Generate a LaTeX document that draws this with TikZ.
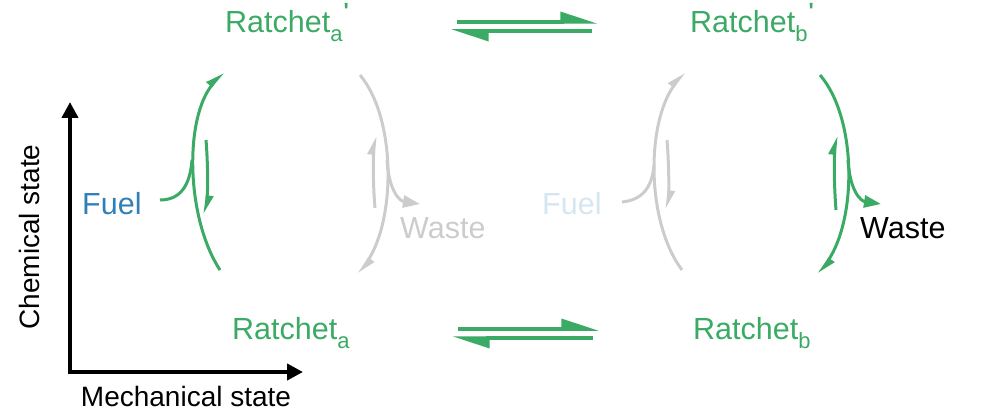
\documentclass[tikz,border=0pt]{standalone}
\usepackage{fontspec}
\setmainfont{Liberation Sans}
\usetikzlibrary{arrows.meta}
\definecolor{rgreen}{RGB}{58,170,100}
\definecolor{rgrey}{RGB}{204,204,204}
\definecolor{fuelblue}{RGB}{47,127,184}
\definecolor{fuellight}{RGB}{213,230,243}
\newcommand{\ratch}[2]{Ratchet\raisebox{-9pt}{\fontsize{22}{22}\selectfont #1}#2}
\newcommand{\prm}{\kern1pt\raisebox{14pt}{\fontsize{22}{22}\selectfont\bfseries\textquotesingle}}
\begin{document}
\begin{tikzpicture}[x=1pt,y=-1pt,
  lbl/.style={inner sep=0pt,anchor=base west,font=\fontsize{30.5}{34}\selectfont},
  arc/.style={line width=3pt},
  tipc/.style={-{Triangle[left,length=15pt,width=12pt]}},
  tipw/.style={-{Triangle[length=17pt,width=12pt]}},
  eq/.style={line width=3.5pt,rgreen,-{Triangle[left,length=32pt,width=20pt]}},
  axis/.style={line width=4pt,black,-{Triangle[length=16pt,width=16pt]}}]
\useasboundingbox (0,0) rectangle (992,414);
% labels
\node[lbl,rgreen] (rat1) at (225,33) {\ratch{a}{\prm}};
\node[lbl,rgreen] (rbt1) at (690,33) {\ratch{b}{\prm}};
\node[lbl,rgreen] (ra) at (232,339) {\ratch{a}{}};
\node[lbl,rgreen] (rb) at (693,339) {\ratch{b}{}};
\node[lbl,fuelblue] (fuel1) at (82,214) {Fuel};
\node[lbl,rgrey] (waste1) at (400,238) {Waste};
\node[lbl,fuellight] (fuel2) at (542,214) {Fuel};
\node[lbl,black] (waste2) at (860,238) {Waste};
\node[inner sep=0pt,rotate=90,font=\fontsize{28}{32}\selectfont] (ylab) at (29,237) {Chemical state};
\node[inner sep=0pt,anchor=base,font=\fontsize{28}{32}\selectfont] (xlab) at (186,406) {Mechanical state};
% axes
\coordinate (o) at (70,372);
\coordinate (ytop) at (70,102);
\coordinate (xend) at (303,372);
\draw[axis] (o) -- (ytop);
\draw[axis] ([xshift=-2pt]o) -- (xend);
% equilibrium arrows top
\coordinate (t1s) at (457,22); \coordinate (t1e) at (598,22);
\coordinate (t2s) at (592,31); \coordinate (t2e) at (451,31);
\draw[eq] (t1s) -- (t1e);
\draw[eq] (t2s) -- (t2e);
% equilibrium arrows bottom
\coordinate (b1s) at (458,329); \coordinate (b1e) at (599,329);
\coordinate (b2s) at (593,338); \coordinate (b2e) at (452,338);
\draw[eq] (b1s) -- (b1e);
\draw[eq] (b2s) -- (b2e);
% left green pair
\coordinate (gl1) at (220,270); \coordinate (gl2) at (223,72);
\draw[arc,rgreen,tipc] (gl1) .. controls (186,218) and (184,118) .. (gl2);
\coordinate (f1s) at (160,200); \coordinate (f1e) at (192,160);
\draw[arc,rgreen] (f1s) .. controls (180,200) and (190,186) .. (f1e);
\coordinate (gi1) at (206,140); \coordinate (gi2) at (205,214);
\draw[arc,rgreen,tipc] (gi1) .. controls (208,165) and (208,190) .. (gi2);
% grey pair right of ratchet a
\coordinate (gr1) at (360,75); \coordinate (gr2) at (359,274);
\draw[arc,rgrey,tipc] (gr1) .. controls (396,118) and (396,218) .. (gr2);
\coordinate (w1s) at (387,160); \coordinate (w1e) at (420,204);
\draw[arc,rgrey,tipw] (w1s) .. controls (389,192) and (400,201) .. (w1e);
\coordinate (ri1) at (375,208); \coordinate (ri2) at (375,136);
\draw[arc,rgrey,tipc] (ri1) .. controls (373,185) and (373,160) .. (ri2);
% grey pair left of ratchet b
\coordinate (gb1) at (682,270); \coordinate (gb2) at (684,72);
\draw[arc,rgrey,tipc] (gb1) .. controls (646,222) and (646,123) .. (gb2);
\coordinate (f2s) at (622,202); \coordinate (f2e) at (654,165);
\draw[arc,rgrey] (f2s) .. controls (642,200) and (652,188) .. (f2e);
\coordinate (bi1) at (667,140); \coordinate (bi2) at (667,209);
\draw[arc,rgrey,tipc] (bi1) .. controls (669,165) and (669,190) .. (bi2);
% right green pair
\coordinate (gg1) at (820,75); \coordinate (gg2) at (819,274);
\draw[arc,rgreen,tipc] (gg1) .. controls (857,118) and (857,218) .. (gg2);
\coordinate (w2s) at (848,160); \coordinate (w2e) at (881,204);
\draw[arc,rgreen,tipw] (w2s) .. controls (850,192) and (861,201) .. (w2e);
\coordinate (gri1) at (836,210); \coordinate (gri2) at (836,136);
\draw[arc,rgreen,tipc] (gri1) .. controls (834,185) and (834,160) .. (gri2);
\end{tikzpicture}
\end{document}
